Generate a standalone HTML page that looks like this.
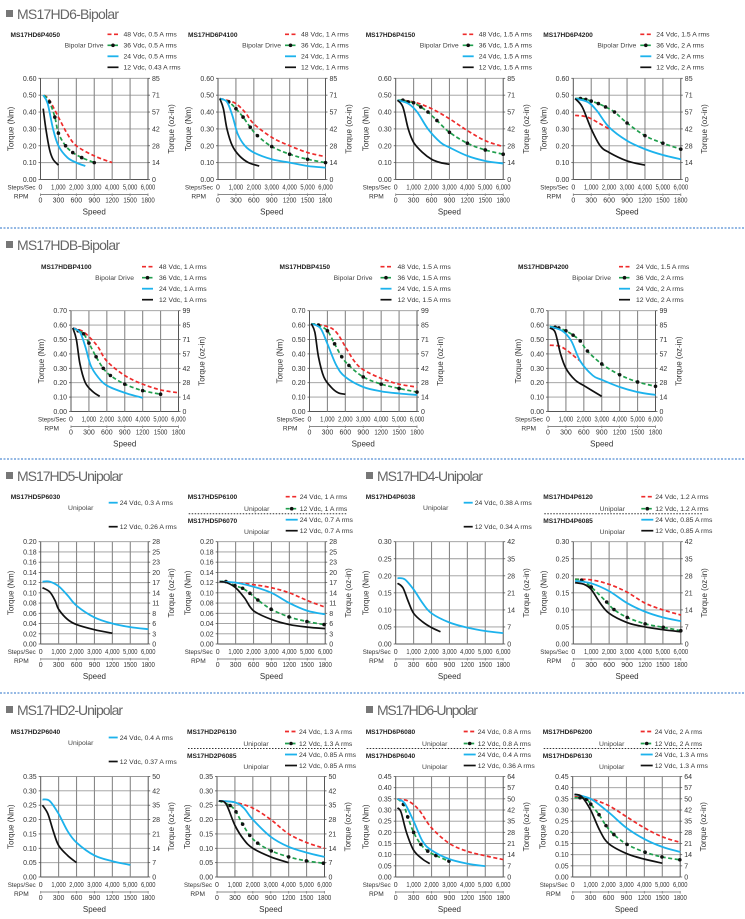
<!DOCTYPE html>
<html><head><meta charset="utf-8"><style>
html,body{margin:0;padding:0;background:#fff;}
svg{display:block;font-family:"Liberation Sans",Arial,sans-serif;}
</style></head><body>
<svg id="page" width="745" height="919" viewBox="0 0 745 919" xmlns="http://www.w3.org/2000/svg">
<g><rect x="6" y="10" width="7" height="7" fill="#777"/><text x="17" y="19" font-size="14" fill="#666" textLength="102">MS17HD6-Bipolar</text></g>
<line x1="0" y1="228" x2="745" y2="228" stroke="#2a72c8" stroke-dasharray="2,1.5" stroke-width="1"/>
<g><rect x="6" y="241" width="7" height="7" fill="#777"/><text x="17" y="250" font-size="14" fill="#666" textLength="103">MS17HDB-Bipolar</text></g>
<line x1="0" y1="459" x2="745" y2="459" stroke="#2a72c8" stroke-dasharray="2,1.5" stroke-width="1"/>
<g><rect x="6" y="472" width="7" height="7" fill="#777"/><text x="17" y="481" font-size="14" fill="#666" textLength="106">MS17HD5-Unipolar</text></g>
<g><rect x="366" y="472" width="7" height="7" fill="#777"/><text x="377" y="481" font-size="14" fill="#666" textLength="106">MS17HD4-Unipolar</text></g>
<line x1="0" y1="693" x2="745" y2="693" stroke="#2a72c8" stroke-dasharray="2,1.5" stroke-width="1"/>
<g><rect x="6" y="706" width="7" height="7" fill="#777"/><text x="17" y="715" font-size="14" fill="#666" textLength="106">MS17HD2-Unipolar</text></g>
<g><rect x="366" y="706" width="7" height="7" fill="#777"/><text x="377" y="715" font-size="14" fill="#666" textLength="101">MS17HD6-Unpolar</text></g>
</svg>
<script>
// ---- shared axis labels ----
const STEPS_LABELS = ['0','1,000','2,000','3,000','4,000','5,000','6,000'];
const STEPS_VALUES = [0,1,2,3,4,5,6];
const RPM_LABELS = ['0','300','600','900','1200','1500','1800'];
const LEFT_060 = ['0.00','0.10','0.20','0.30','0.40','0.50','0.60'];
const RIGHT_060 = ['0','14','28','42','57','71','85'];
const LEFT_070 = ['0.00','0.10','0.20','0.30','0.40','0.50','0.60','0.70'];
const RIGHT_070 = ['0','14','28','42','57','71','85','99'];
const LEFT_020 = ['0.00','0.02','0.04','0.06','0.08','0.10','0.12','0.14','0.16','0.18','0.20'];
const RIGHT_020 = ['0','3','6','8','11','14','17','20','23','25','28'];
const LEFT_030 = ['0.00','0.05','0.10','0.15','0.20','0.25','0.30'];
const RIGHT_030 = ['0','7','14','21','28','35','42'];
const LEFT_035 = ['0.00','0.05','0.10','0.15','0.20','0.25','0.30','0.35'];
const RIGHT_035 = ['0','7','14','21','28','35','42','50'];
const LEFT_045 = ['0.00','0.05','0.10','0.15','0.20','0.25','0.30','0.35','0.40','0.45'];
const RIGHT_045 = ['0','7','14','21','28','35','42','50','57','64'];

// ---- series data: [k steps/sec, torque Nm] ----
const c1_red=[[0.2,.50],[0.5,.47],[1,.37],[1.5,.27],[2,.2],[3,.14],[4,.10]];
const c1_green=[[0.2,.50],[0.5,.46],[0.8,.37],[1,.275],[1.4,.2],[1.8,.16],[2.3,.13],[3,.10]];
const c1_blue=[[0.15,.50],[0.4,.45],[0.7,.3],[1,.2],[1.5,.13],[2,.1],[2.5,.08]];
const c1_black=[[0.15,.42],[0.3,.3],[0.5,.18],[0.7,.12],[1,.085]];

const c2_red=[[0.1,.48],[0.5,.47],[1,.45],[1.5,.40],[2,.33],[3,.25],[4,.2],[5,.16],[6,.135]];
const c2_green=[[0.1,.48],[0.6,.46],[1,.42],[1.4,.37],[1.8,.31],[2.2,.26],[3,.195],[4,.15],[5,.12],[6,.10]];
const c2_blue=[[0.1,.48],[0.5,.46],[0.8,.38],[1.1,.27],[1.5,.2],[2,.16],[3,.12],[4,.1],[5,.08],[6,.07]];
const c2_black=[[0.1,.48],[0.3,.42],[0.5,.3],[0.8,.2],[1.2,.14],[1.7,.1],[2.3,.08]];

const c3_red=[[0.1,.47],[1,.46],[2,.42],[3,.36],[4,.29],[5,.23],[6,.195]];
const c3_green=[[0.1,.47],[0.4,.47],[0.7,.46],[1,.455],[1.4,.43],[1.8,.40],[2.3,.35],[3,.28],[4,.215],[5,.175],[6,.15]];
const c3_blue=[[0.1,.47],[0.7,.45],[1.2,.40],[1.8,.30],[2.5,.22],[3,.19],[4,.14],[5,.11],[6,.095]];
const c3_black=[[0.1,.47],[0.4,.43],[0.7,.3],[1,.22],[1.5,.16],[2,.12],[2.5,.10],[3,.09]];

const c4_red=[[0.1,.38],[0.6,.375],[1,.36],[1.5,.33],[2,.30]];
const c4_green=[[0.1,.48],[0.4,.48],[0.7,.475],[1,.465],[1.4,.45],[1.8,.43],[2.3,.40],[3,.335],[4,.26],[5,.215],[6,.18]];
const c4_blue=[[0.1,.48],[0.8,.46],[1.3,.41],[2,.31],[3,.23],[4,.18],[5,.145],[6,.12]];
const c4_black=[[0.1,.48],[0.5,.43],[1,.3],[1.5,.2],[2,.16],[3,.11],[4,.085]];

const c5_red=[[0.1,.58],[0.6,.56],[1,.52],[1.5,.45],[2,.35],[3,.25],[4,.19],[5,.15],[6,.13]];
const c5_green=[[0.1,.58],[0.4,.56],[0.7,.54],[1,.475],[1.4,.38],[1.8,.30],[2.2,.25],[3,.19],[4,.145],[5,.12]];
const c5_blue=[[0.1,.58],[0.5,.55],[0.8,.45],[1.1,.32],[1.5,.24],[2,.18],[3,.13],[4,.095]];
const c5_black=[[0.1,.58],[0.3,.5],[0.5,.33],[0.8,.2],[1.2,.14],[1.6,.105]];

const c6_red=[[0.1,.61],[1,.59],[1.5,.55],[2,.45],[2.5,.35],[3,.29],[4,.23],[5,.19],[6,.17]];
const c6_green=[[0.1,.61],[0.5,.6],[1,.56],[1.4,.47],[1.8,.38],[2.2,.32],[3,.24],[4,.19],[5,.16],[6,.135]];
const c6_blue=[[0.1,.61],[0.6,.58],[1,.47],[1.5,.32],[2,.24],[3,.17],[4,.14],[5,.125],[6,.115]];
const c6_black=[[0.1,.61],[0.3,.55],[0.5,.38],[0.8,.24],[1.2,.17],[1.6,.13],[2,.12]];

const c7_red=[[0.1,.46],[0.6,.455],[1,.43],[1.5,.38],[1.8,.35]];
const c7_green=[[0.1,.59],[0.4,.585],[0.6,.58],[1,.56],[1.4,.53],[1.8,.49],[2.2,.42],[3,.33],[4,.255],[5,.205],[6,.175]];
const c7_blue=[[0.1,.59],[0.8,.56],[1.3,.49],[1.8,.35],[2.5,.25],[3,.22],[4,.17],[5,.135],[6,.115]];
const c7_black=[[0.1,.58],[0.4,.55],[0.7,.4],[1,.3],[1.5,.22],[2,.18],[3,.105]];

const c8_blue=[[0.1,.122],[0.5,.122],[1,.113],[1.5,.095],[2,.075],[3,.052],[4,.04],[5,.033],[6,.029]];
const c8_black=[[0.1,.11],[0.5,.102],[0.8,.085],[1,.068],[1.5,.048],[2,.038],[3,.028],[4,.021]];

const c9_red=[[0.1,.122],[1,.12],[2,.116],[3,.11],[4,.1],[5,.085],[6,.072]];
const c9_green=[[0.1,.122],[0.46,.122],[0.96,.114],[1.39,.109],[1.8,.099],[2.24,.086],[2.98,.068],[3.98,.053],[4.98,.044],[5.94,.038]];
const c9_blue=[[0.1,.122],[1,.12],[2,.112],[3,.1],[4,.08],[5,.065],[6,.058]];
const c9_black=[[0.1,.122],[0.5,.12],[1,.11],[1.5,.09],[2,.065],[3,.048],[4,.038],[5,.033],[6,.03]];

const c10_blue=[[0.1,.193],[0.5,.19],[1,.16],[1.5,.12],[2,.09],[3,.063],[4,.048],[5,.038],[6,.032]];
const c10_black=[[0.1,.178],[0.4,.165],[0.7,.125],[1,.09],[1.5,.065],[2,.048],[2.5,.036]];

const c11_red=[[0.1,.19],[1,.188],[2,.175],[3,.152],[4,.12],[5,.1],[6,.085]];
const c11_green=[[0.1,.19],[0.46,.187],[1.0,.167],[1.86,.123],[2.27,.101],[3.01,.078],[4.01,.059],[5.02,.049],[6.0,.039]];
const c11_blue=[[0.1,.185],[1,.178],[2,.155],[3,.12],[4,.095],[5,.078],[6,.067]];
const c11_black=[[0.1,.18],[0.6,.175],[1,.16],[1.5,.12],[2,.09],[3,.063],[4,.05],[5,.042],[6,.036]];

const c12_blue=[[0.1,.27],[0.5,.265],[1,.22],[1.5,.16],[2,.12],[3,.075],[4,.055],[5,.042]];
const c12_black=[[0.1,.25],[0.4,.22],[0.7,.16],[1,.11],[1.5,.075],[2,.05]];

const c13_red=[[0.1,.265],[1,.26],[2,.24],[3,.2],[4,.15],[5,.12],[6,.1]];
const c13_green=[[0.1,.265],[0.73,.249],[1.06,.227],[1.43,.184],[1.83,.145],[2.27,.118],[3.03,.091],[4.0,.07],[4.99,.056],[5.94,.048]];
const c13_blue=[[0.1,.265],[1,.26],[1.5,.24],[2,.2],[3,.14],[4,.105],[5,.085],[6,.07]];
const c13_black=[[0.1,.265],[0.5,.255],[1,.18],[1.5,.13],[2,.1],[3,.07],[4,.05]];

const c14_red=[[0.1,.35],[0.7,.34],[1.3,.3],[2,.22],[3,.15],[4,.115],[5,.095],[6,.078]];
const c14_green=[[0.1,.35],[0.43,.325],[0.67,.269],[1.0,.2],[1.4,.146],[1.79,.116],[2.24,.096],[2.97,.071]];
const c14_blue=[[0.1,.35],[0.5,.33],[1,.25],[1.5,.16],[2,.12],[3,.08],[4,.06],[5,.048]];
const c14_black=[[0.1,.31],[0.3,.29],[0.6,.2],[1,.12],[1.5,.08],[1.9,.06]];

const c15_red=[[0.1,.36],[1,.35],[2,.32],[3,.27],[4,.22],[5,.18],[6,.155]];
const c15_green=[[0.1,.355],[0.41,.355],[0.77,.348],[1.01,.326],[1.47,.279],[1.86,.23],[2.3,.19],[3.03,.146],[4.04,.111],[4.98,.09],[5.98,.077]];
const c15_blue=[[0.1,.37],[1,.35],[2,.29],[3,.22],[4,.17],[5,.135],[6,.112]];
const c15_black=[[0.1,.37],[0.5,.36],[1,.3],[1.5,.21],[2,.15],[3,.105],[4,.08],[5,.062]];

const STY={
 red:{c:'#ee2b2b',d:'4,2.5',w:1.7},
 green:{c:'#1f9e4c',d:'4,2.5',w:1.7},
 blue:{c:'#1cb2ec',d:'',w:1.8},
 black:{c:'#111',d:'',w:1.7}
};
const NS='http://www.w3.org/2000/svg';
const svg=document.getElementById('page');
function mk(tag,attrs,parent,txt){const e=document.createElementNS(NS,tag);for(const k in attrs)e.setAttribute(k,attrs[k]);if(txt!==undefined)e.textContent=txt;(parent||svg).appendChild(e);return e;}
function smooth(pts){
 if(pts.length<2)return '';
 let d='M'+pts[0][0].toFixed(2)+','+pts[0][1].toFixed(2);
 for(let i=0;i<pts.length-1;i++){
  const p0=pts[i-1]||pts[i],p1=pts[i],p2=pts[i+1],p3=pts[i+2]||p2;
  const c1x=p1[0]+(p2[0]-p0[0])/6,c1y=p1[1]+(p2[1]-p0[1])/6;
  const c2x=p2[0]-(p3[0]-p1[0])/6,c2y=p2[1]-(p3[1]-p1[1])/6;
  d+='C'+c1x.toFixed(2)+','+c1y.toFixed(2)+' '+c2x.toFixed(2)+','+c2y.toFixed(2)+' '+p2[0].toFixed(2)+','+p2[1].toFixed(2);
 }
 return d;
}
const TF=7; // tick font
function drawChart(cfg){
 const g=mk('g',{});
 
 
 const L=cfg.L,T=cfg.T,W=107.5,H=cfg.H,B=T+H,R=L+W;
 const n=cfg.left.length-1;
 const ymax=parseFloat(cfg.left[n]);
 const xs=v=>L+v/6*W;
 const ys=v=>B-v/ymax*H;
 for(let i=0;i<=n;i++){
  const y=B-i*H/n;
  const gl=mk('line',{x1:L,x2:R,y1:y,y2:y,stroke:i===0?'#555':'#999','stroke-width':i===0?1:0.9},g);
  
  
  const lt=mk('text',{x:L-4,y:y+2.5,'font-size':TF,'text-anchor':'end',fill:'#333'},g,cfg.left[i]);
  
  
  const rt=mk('text',{x:R+4,y:y+2.5,'font-size':TF,fill:'#333'},g,cfg.right[i]);
  
  
  mk('line',{x1:L-2,x2:L,y1:y,y2:y,stroke:'#555','stroke-width':0.8},g);
  mk('line',{x1:R,x2:R+2,y1:y,y2:y,stroke:'#555','stroke-width':0.8},g);
 }
 for(let j=0;j<STEPS_VALUES.length;j++){
  const x=xs(STEPS_VALUES[j]);
  const edge=(j===0||j===6);
  const vl=mk('line',{x1:x,x2:x,y1:T,y2:B,stroke:edge?'#555':'#888','stroke-width':edge?1:1.1},g);
  
  
  const lab=STEPS_LABELS[j];
  const sa={x:x,y:B+10,'font-size':TF,'text-anchor':'middle',fill:'#333'};
  if(lab.length>1){sa.textLength=14.5;sa.lengthAdjust='spacingAndGlyphs';}
  const st=mk('text',sa,g,lab);
  
  
  const ra={x:x,y:B+23,'font-size':TF,'text-anchor':'middle',fill:'#333'};
  if(RPM_LABELS[j].length>3){ra.textLength=13.5;ra.lengthAdjust='spacingAndGlyphs';}
  const rp=mk('text',ra,g,RPM_LABELS[j]);
  
  
  mk('line',{x1:x,x2:x,y1:B+14,y2:B+16.5,stroke:'#777','stroke-width':0.8},g);
 }
 mk('line',{x1:L,x2:R,y1:B+15,y2:B+15,stroke:'#888','stroke-width':1},g);
 const sl=mk('text',{x:L-5,y:B+10,'font-size':6.6,'text-anchor':'end',fill:'#333',textLength:28,lengthAdjust:'spacingAndGlyphs'},g,'Steps/Sec');
 
 
 const rl=mk('text',{x:L-12,y:B+19,'font-size':6.6,'text-anchor':'end',fill:'#333'},g,'RPM');
 
 
 const sp=mk('text',{x:L+W/2,y:B+35,'font-size':8,'text-anchor':'middle',fill:'#333'},g,'Speed');
 
 
 const yl=mk('text',{x:0,y:0,'font-size':8,'text-anchor':'middle',fill:'#333',transform:'translate('+(L-27)+','+(T+H/2)+') rotate(-90)'},g,'Torque (Nm)');
 
 
 const yr=mk('text',{x:0,y:0,'font-size':8,'text-anchor':'middle',fill:'#333',transform:'translate('+(R+26)+','+(T+H/2)+') rotate(-90)'},g,'Torque (oz-in)');
 
 
 cfg.series.forEach(s=>{
  const st=STY[s.color];
  const pts=s.data.map(p=>[xs(p[0]),ys(p[1])]);
  const p=mk('path',{d:smooth(pts),fill:'none',stroke:st.c,'stroke-width':st.w,'stroke-dasharray':st.d||'none','stroke-linecap':'butt'},g);
  
  
  if(s.color==='green'){
   s.data.slice(1).forEach(d=>{
    const m=mk('circle',{cx:xs(d[0]),cy:ys(d[1]),r:1.8,fill:'#111'},g);
    
    
   });
  }
 });
 const lg=cfg.lg||{l0:67,l1:78,t:83};
 function legendEntry(y,s){
  const st=STY[s.color];
  const e=mk('g',{},g);
  
  
  mk('line',{x1:L+lg.l0,x2:L+lg.l1,y1:y,y2:y,stroke:st.c,'stroke-width':st.w,'stroke-dasharray':st.d||'none'},e);
  if(s.color==='green')mk('circle',{cx:L+(lg.l0+lg.l1)/2,cy:y,r:1.8,fill:'#111'},e);
  mk('text',{x:L+lg.t,y:y+2.4,'font-size':6.8,fill:'#333'},e,s.label);
 }
 function title(y,txt){const t=mk('text',{x:L-30,y:y+2.5,'font-size':6.6,'font-weight':'bold',fill:'#222'},g,txt);}
 function note(x,y,txt,anchor){const t=mk('text',{x:x,y:y+2.4,'font-size':6.8,fill:'#444','text-anchor':anchor},g,txt);}
 if(cfg.type==='bip'){
  title(T-44,cfg.titles[0]);
  note(L+63,T-33,'Bipolar Drive','end');
  [-44,-33,-22,-11].forEach((o,i)=>legendEntry(T+o,cfg.series[i]));
 } else if(cfg.type==='uni2'){
  title(T-45,cfg.titles[0]);
  note(L+40,T-34,'Unipolar','middle');
  legendEntry(T-39,cfg.series[0]);legendEntry(T-15,cfg.series[1]);
 } else {
  title(T-45,cfg.titles[0]);
  note(L+39,T-33,'Unipolar','middle');
  const dl=mk('line',{x1:L-29,x2:L+130,y1:T-28,y2:T-28,stroke:'#333','stroke-width':1,'stroke-dasharray':'1.5,1.5'},g);
  
  
  title(T-21,cfg.titles[1]);
  note(L+39,T-10,'Unipolar','middle');
  [-45,-33,-22,-11].forEach((o,i)=>legendEntry(T+o,cfg.series[i]));
 }
}
const R1={T:78.3,H:101.2},R2={T:310.7,H:100.8},R3={T:541.7,H:102.3},R4={T:776.5,H:100.5};
const LG2={l0:71,l1:82,t:88};
const charts=[
 {id:'ms17hd6p4050',L:40.5,...R1,left:LEFT_060,right:RIGHT_060,type:'bip',titles:['MS17HD6P4050'],series:[{color:'red',data:c1_red,label:'48 Vdc, 0.5 A rms'},{color:'green',data:c1_green,label:'36 Vdc, 0.5 A rms'},{color:'blue',data:c1_blue,label:'24 Vdc, 0.5 A rms'},{color:'black',data:c1_black,label:'12 Vdc, 0.43 A rms'}]},
 {id:'ms17hd6p4100',L:218,...R1,left:LEFT_060,right:RIGHT_060,type:'bip',titles:['MS17HD6P4100'],series:[{color:'red',data:c2_red,label:'48 Vdc, 1 A rms'},{color:'green',data:c2_green,label:'36 Vdc, 1 A rms'},{color:'blue',data:c2_blue,label:'24 Vdc, 1 A rms'},{color:'black',data:c2_black,label:'12 Vdc, 1 A rms'}]},
 {id:'ms17hd6p4150',L:395.7,...R1,left:LEFT_060,right:RIGHT_060,type:'bip',titles:['MS17HD6P4150'],series:[{color:'red',data:c3_red,label:'48 Vdc, 1.5 A rms'},{color:'green',data:c3_green,label:'36 Vdc, 1.5 A rms'},{color:'blue',data:c3_blue,label:'24 Vdc, 1.5 A rms'},{color:'black',data:c3_black,label:'12 Vdc, 1.5 A rms'}]},
 {id:'ms17hd6p4200',L:573.3,...R1,left:LEFT_060,right:RIGHT_060,type:'bip',titles:['MS17HD6P4200'],series:[{color:'red',data:c4_red,label:'24 Vdc, 1.5 A rms'},{color:'green',data:c4_green,label:'36 Vdc, 2 A rms'},{color:'blue',data:c4_blue,label:'24 Vdc, 2 A rms'},{color:'black',data:c4_black,label:'12 Vdc, 2 A rms'}]},
 {id:'ms17hdbp4100',L:71,...R2,lg:LG2,left:LEFT_070,right:RIGHT_070,type:'bip',titles:['MS17HDBP4100'],series:[{color:'red',data:c5_red,label:'48 Vdc, 1 A rms'},{color:'green',data:c5_green,label:'36 Vdc, 1 A rms'},{color:'blue',data:c5_blue,label:'24 Vdc, 1 A rms'},{color:'black',data:c5_black,label:'12 Vdc, 1 A rms'}]},
 {id:'ms17hdbp4150',L:309.5,...R2,lg:LG2,left:LEFT_070,right:RIGHT_070,type:'bip',titles:['MS17HDBP4150'],series:[{color:'red',data:c6_red,label:'48 Vdc, 1.5 A rms'},{color:'green',data:c6_green,label:'36 Vdc, 1.5 A rms'},{color:'blue',data:c6_blue,label:'24 Vdc, 1.5 A rms'},{color:'black',data:c6_black,label:'12 Vdc, 1.5 A rms'}]},
 {id:'ms17hdbp4200',L:548,...R2,lg:LG2,left:LEFT_070,right:RIGHT_070,type:'bip',titles:['MS17HDBP4200'],series:[{color:'red',data:c7_red,label:'24 Vdc, 1.5 A rms'},{color:'green',data:c7_green,label:'36 Vdc, 2 A rms'},{color:'blue',data:c7_blue,label:'24 Vdc, 2 A rms'},{color:'black',data:c7_black,label:'12 Vdc, 2 A rms'}]},
 {id:'ms17hd5p6030',L:40.7,...R3,lg:{l0:68,l1:77,t:79},left:LEFT_020,right:RIGHT_020,type:'uni2',titles:['MS17HD5P6030'],series:[{color:'blue',data:c8_blue,label:'24 Vdc, 0.3 A rms'},{color:'black',data:c8_black,label:'12 Vdc, 0.26 A rms'}]},
 {id:'ms17hd5p6100',L:217.7,...R3,lg:{l0:68,l1:80,t:82},left:LEFT_020,right:RIGHT_020,type:'uni4',titles:['MS17HD5P6100','MS17HD5P6070'],series:[{color:'red',data:c9_red,label:'24 Vdc, 1 A rms'},{color:'green',data:c9_green,label:'12 Vdc, 1 A rms'},{color:'blue',data:c9_blue,label:'24 Vdc, 0.7 A rms'},{color:'black',data:c9_black,label:'12 Vdc, 0.7 A rms'}]},
 {id:'ms17hd4p6038',L:395.7,...R3,lg:{l0:68,l1:77,t:79},left:LEFT_030,right:RIGHT_030,type:'uni2',titles:['MS17HD4P6038'],series:[{color:'blue',data:c10_blue,label:'24 Vdc, 0.38 A rms'},{color:'black',data:c10_black,label:'12 Vdc, 0.34 A rms'}]},
 {id:'ms17hd4p6120',L:573.3,...R3,lg:{l0:68,l1:80,t:82},left:LEFT_030,right:RIGHT_030,type:'uni4',titles:['MS17HD4P6120','MS17HD4P6085'],series:[{color:'red',data:c11_red,label:'24 Vdc, 1.2 A rms'},{color:'green',data:c11_green,label:'12 Vdc, 1.2 A rms'},{color:'blue',data:c11_blue,label:'24 Vdc, 0.85 A rms'},{color:'black',data:c11_black,label:'12 Vdc, 0.85 A rms'}]},
 {id:'ms17hd2p6040',L:40.7,...R4,lg:{l0:68,l1:77,t:79},left:LEFT_035,right:RIGHT_035,type:'uni2',titles:['MS17HD2P6040'],series:[{color:'blue',data:c12_blue,label:'24 Vdc, 0.4 A rms'},{color:'black',data:c12_black,label:'12 Vdc, 0.37 A rms'}]},
 {id:'ms17hd2p6130',L:217,...R4,lg:{l0:68,l1:80,t:82},left:LEFT_035,right:RIGHT_035,type:'uni4',titles:['MS17HD2P6130','MS17HD2P6085'],series:[{color:'red',data:c13_red,label:'24 Vdc, 1.3 A rms'},{color:'green',data:c13_green,label:'12 Vdc, 1.3 A rms'},{color:'blue',data:c13_blue,label:'24 Vdc, 0.85 A rms'},{color:'black',data:c13_black,label:'12 Vdc, 0.85 A rms'}]},
 {id:'ms17hd6p6080',L:395.7,...R4,lg:{l0:68,l1:80,t:82},left:LEFT_045,right:RIGHT_045,type:'uni4',titles:['MS17HD6P6080','MS17HD6P6040'],series:[{color:'red',data:c14_red,label:'24 Vdc, 0.8 A rms'},{color:'green',data:c14_green,label:'12 Vdc, 0.8 A rms'},{color:'blue',data:c14_blue,label:'24 Vdc, 0.4 A rms'},{color:'black',data:c14_black,label:'12 Vdc, 0.36 A rms'}]},
 {id:'ms17hd6p6200',L:572.7,...R4,lg:{l0:68,l1:80,t:82},left:LEFT_045,right:RIGHT_045,type:'uni4',titles:['MS17HD6P6200','MS17HD6P6130'],series:[{color:'red',data:c15_red,label:'24 Vdc, 2 A rms'},{color:'green',data:c15_green,label:'12 Vdc, 2 A rms'},{color:'blue',data:c15_blue,label:'24 Vdc, 1.3 A rms'},{color:'black',data:c15_black,label:'12 Vdc, 1.3 A rms'}]}
];
charts.forEach(drawChart);
</script>
</body></html>
